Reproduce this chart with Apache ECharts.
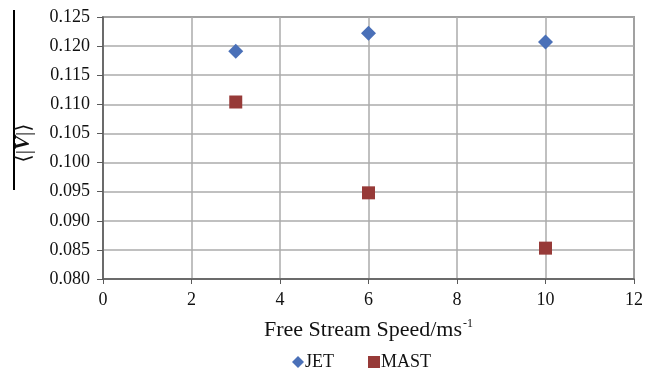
<!DOCTYPE html>
<html>
<head>
<meta charset="utf-8">
<script src="https://cdn.jsdelivr.net/npm/echarts@6/dist/echarts.min.js"></script>
<style>
  html, body { margin: 0; padding: 0; background: #fff; }
  #chart { width: 656px; height: 371px; }
</style>
</head>
<body>
<div id="chart"></div>
<script>
// Free stream speed (m/s) and the mean |V| for each configuration
const speeds = [3, 6, 10];
const jetValues = [0.1191, 0.1222, 0.1207];
const mastValues = [0.1104, 0.0948, 0.0853];
const seriesNames = ['JET', 'MAST'];

const serif = '"Liberation Serif", "DejaVu Serif", serif';
const axisColor = '#5a5a5a';
const gridColor = '#ababab';
const jetColor = '#4a70b8';
const mastColor = '#973a38';

const chart = echarts.init(document.getElementById('chart'));
chart.setOption({
  animation: false,
  grid: { left: 103, right: 22, top: 17, bottom: 92, show: true, borderColor: axisColor, borderWidth: 1.5 },
  xAxis: {
    type: 'value', min: 0, max: 12, interval: 2,
    name: '{m|Free Stream Speed/ms}{s|-1}',
    nameLocation: 'middle', nameGap: 39,
    nameTextStyle: {
      rich: {
        m: { fontFamily: serif, fontSize: 22, color: '#111' },
        s: { fontFamily: serif, fontSize: 12, color: '#111', verticalAlign: 'top', padding: [0, 0, 12, 1] }
      }
    },
    axisLine: { lineStyle: { color: axisColor, width: 1.5 } },
    axisTick: { show: true, length: 5, lineStyle: { color: axisColor } },
    axisLabel: { fontFamily: serif, fontSize: 18, color: '#111', margin: 12 },
    splitLine: { show: true, lineStyle: { color: gridColor, width: 1.5 } }
  },
  yAxis: {
    type: 'value', min: 0.080, max: 0.125, interval: 0.005,
    axisLine: { show: true, lineStyle: { color: axisColor, width: 1.5 } },
    axisTick: { show: true, length: 6, lineStyle: { color: axisColor } },
    axisLabel: { fontFamily: serif, fontSize: 18, color: '#111', margin: 13,
      formatter: v => v.toFixed(3) },
    splitLine: { show: true, lineStyle: { color: gridColor, width: 1.5 } }
  },
  legend: {
    bottom: 0, left: 292, padding: 0, itemGap: 34, itemWidth: 12, itemHeight: 12,
    textStyle: { fontFamily: serif, fontSize: 18, color: '#111', padding: [0, 0, 0, -4] },
    data: [
      { name: seriesNames[0], icon: 'diamond', itemStyle: { color: jetColor } },
      { name: seriesNames[1], icon: 'rect', itemStyle: { color: mastColor } }
    ]
  },
  graphic: [
    {
      type: 'line', shape: { x1: 14, y1: 10, x2: 14, y2: 190 },
      style: { stroke: '#000', lineWidth: 2 }
    },
    {
      type: 'text', x: 24, y: 143, rotation: Math.PI / 2,
      style: {
        text: '{a|\u27E8|}{v|V}{a||\u27E9}',
        align: 'center', verticalAlign: 'middle',
        rich: {
          a: { fontFamily: serif, fontSize: 21, fill: '#111' },
          v: { fontFamily: serif, fontSize: 21, fontWeight: 'bold', fontStyle: 'italic', fill: '#111' }
        }
      }
    }
  ],
  series: [
    {
      name: seriesNames[0], type: 'scatter', symbol: 'diamond', symbolSize: 15,
      itemStyle: { color: jetColor, opacity: 1 },
      data: speeds.map((s, i) => [s, jetValues[i]])
    },
    {
      name: seriesNames[1], type: 'scatter', symbol: 'rect', symbolSize: 13,
      itemStyle: { color: mastColor, opacity: 1 },
      data: speeds.map((s, i) => [s, mastValues[i]])
    }
  ]
});
</script>
</body>
</html>
